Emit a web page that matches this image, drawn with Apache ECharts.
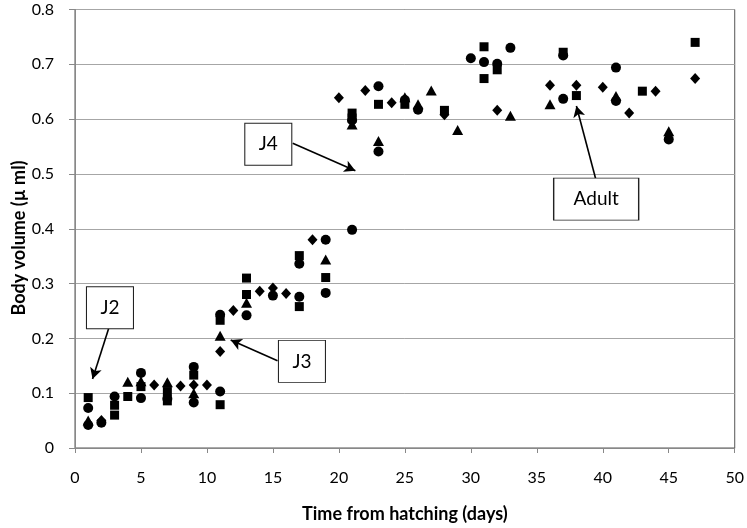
<!DOCTYPE html>
<html>
<head>
<meta charset="utf-8">
<script src="https://cdn.jsdelivr.net/npm/echarts@6/dist/echarts.min.js"></script>
<style>html,body{margin:0;padding:0;background:#fff;}#c{width:747px;height:528px;}</style>
</head>
<body>
<div id="c"></div>
<script>
// x tick values (days) and y tick values (body volume)
const xTicks = [0, 5, 10, 15, 20, 25, 30, 35, 40, 45, 50];
const yTicks = [0, 0.1, 0.2, 0.3, 0.4, 0.5, 0.6, 0.7, 0.8];

// [day, volume] pairs per marker type
const circles = [[1,0.073],[1,0.042],[2,0.046],[3,0.094],[5,0.137],[5,0.091],[7,0.09],[9,0.148],[9,0.083],[11,0.243],[11,0.103],[13,0.242],[15,0.278],[17,0.336],[17,0.276],[19,0.38],[19,0.283],[21,0.398],[21,0.598],[23,0.66],[23,0.541],[25,0.635],[26,0.617],[30,0.711],[31,0.704],[32,0.701],[33,0.73],[37,0.716],[37,0.637],[41,0.694],[41,0.633],[45,0.563]];
const squares = [[1,0.092],[3,0.078],[3,0.06],[4,0.094],[5,0.112],[7,0.103],[7,0.086],[9,0.133],[11,0.233],[11,0.079],[13,0.31],[13,0.28],[17,0.351],[17,0.258],[19,0.311],[21,0.611],[21,0.602],[23,0.627],[25,0.627],[28,0.616],[31,0.732],[31,0.674],[32,0.69],[37,0.722],[38,0.643],[43,0.651],[47,0.74]];
const triangles = [[1,0.05],[4,0.121],[5,0.122],[7,0.12],[9,0.1],[11,0.205],[13,0.265],[19,0.344],[21,0.59],[23,0.56],[25,0.64],[26,0.627],[27,0.652],[29,0.58],[33,0.606],[36,0.627],[41,0.642],[45,0.578]];
const diamonds = [[2,0.05],[6,0.115],[8,0.113],[9,0.115],[10,0.115],[11,0.176],[12,0.251],[14,0.286],[15,0.292],[16,0.282],[18,0.38],[20,0.639],[22,0.652],[24,0.63],[28,0.608],[32,0.616],[36,0.662],[38,0.662],[40,0.658],[42,0.611],[44,0.651],[47,0.674]];

// annotation labels: [text, box centre day, box centre volume]
const labels = [["J2", 2.65, 0.256], ["J3", 17.2, 0.158], ["J4", 14.65, 0.554], ["Adult", 39.5, 0.454]];
// arrows: [from day, from volume, to day, to volume]
const arrows = [[2.55, 0.218, 1.33, 0.126], [15.35, 0.159, 11.8, 0.197], [16.5, 0.556, 21.25, 0.506], [39.45, 0.492, 38.0, 0.624]];

const xTitle = 'Time from hatching (days)';
const yTitle = 'Body volume (µ ml)';

const FONT = 'Lato, "Open Sans", sans-serif';
const chart = echarts.init(document.getElementById('c'), null, {renderer: 'canvas'});

function sc(name, data, symbol, size) {
  return {
    name, type: 'scatter', data, symbol, symbolSize: size,
    itemStyle: {color: '#000', opacity: 1},
    animation: false, z: 3
  };
}

chart.setOption({
  animation: false,
  backgroundColor: '#fff',
  grid: {left: 75, right: 8, top: 9.5, bottom: 78, show: true, borderColor: '#555', borderWidth: 1, backgroundColor: 'transparent'},
  graphic: [{
    type: 'text', x: 19, y: 238, rotation: Math.PI / 2,
    style: {text: yTitle, fontFamily: FONT, fontWeight: 'bold', fontSize: 18, fill: '#000', align: 'center', verticalAlign: 'middle'}
  }],
  xAxis: {
    type: 'value', min: xTicks[0], max: xTicks[xTicks.length - 1], interval: 5,
    name: xTitle, nameLocation: 'middle', nameGap: 57,
    nameTextStyle: {fontFamily: FONT, fontWeight: 'bold', fontSize: 18, color: '#000'},
    axisLine: {show: true, lineStyle: {color: '#888', width: 1}},
    axisTick: {show: true, inside: false, length: 5, lineStyle: {color: '#888'}},
    axisLabel: {fontFamily: FONT, fontSize: 16, color: '#000', margin: 22},
    splitLine: {show: false}
  },
  yAxis: {
    type: 'value', min: yTicks[0], max: yTicks[yTicks.length - 1], interval: 0.1,
    axisLine: {show: true, lineStyle: {color: '#888', width: 1}},
    axisTick: {show: true, inside: false, length: 6, lineStyle: {color: '#888'}},
    axisLabel: {fontFamily: FONT, fontSize: 16, color: '#000', margin: 21,
      formatter: v => (Math.round(v * 10) / 10).toString()},
    splitLine: {show: true, lineStyle: {color: '#a6a6a6', width: 1}}
  },
  series: [
    sc('diamond', diamonds, 'diamond', [10, 11]),
    sc('triangle', triangles, 'triangle', [11, 10]),
    sc('square', squares, 'rect', 9),
    sc('circle', circles, 'circle', 10),
    {
      name: 'annotations', type: 'scatter', data: [], z: 10,
      markLine: {
        silent: true, animation: false,
        symbol: ['none', 'arrow'], symbolSize: [9, 11],
        lineStyle: {color: '#000', width: 1.6, type: 'solid'},
        label: {show: false},
        data: arrows.map(a => [{coord: [a[0], a[1]]}, {coord: [a[2], a[3]]}])
      },
      markPoint: {
        silent: true, animation: false,
        symbol: 'rect',
        itemStyle: {color: '#fff', borderColor: '#222', borderWidth: 1},
        label: {show: true, formatter: '{b}', color: '#000', fontFamily: FONT, fontSize: 19, position: 'inside'},
        data: labels.map(l => ({name: l[0], coord: [l[1], l[2]], symbolSize: l[0] === 'Adult' ? [85, 42] : [47, 42]}))
      }
    }
  ]
});
</script>
</body>
</html>
